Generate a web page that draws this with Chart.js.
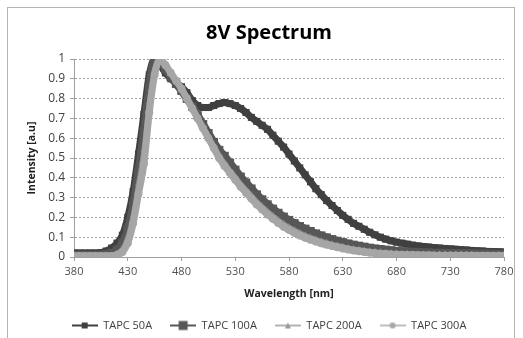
<!DOCTYPE html>
<html>
<head>
<meta charset="utf-8">
<script src="https://cdn.jsdelivr.net/npm/chart.js@4/dist/chart.umd.min.js"></script>
<style>
  body { margin: 0; background: #fff; }
  #wrap { position: relative; width: 523px; height: 338px; overflow: hidden; }
  #frame { position: absolute; left: 7px; top: 7px; width: 508px; height: 340px;
           border: 1px solid #b4b4b4; box-sizing: border-box; pointer-events: none; }
</style>
</head>
<body>
<div id="wrap">
  <canvas id="chart" width="523" height="338"></canvas>
  <div id="frame"></div>
</div>
<script>
// wavelength, nm
var wavelengths = [380,385,390,395,400,405,410,415,420,425,430,435,440,445,450,455,460,465,470,475,
  480,485,490,495,500,505,510,515,520,525,530,535,540,545,550,555,560,565,570,575,
  580,585,590,595,600,605,610,615,620,625,630,635,640,645,650,655,660,665,670,675,
  680,685,690,695,700,705,710,715,720,725,730,735,740,745,750,755,760,765,770,775,780];

var tapc50 = [0.02,0.02,0.02,0.02,0.02,0.022,0.03,0.045,0.07,0.11,0.2,0.33,0.52,0.72,0.92,1.0,0.97,0.93,0.9,0.88,
  0.86,0.83,0.79,0.765,0.755,0.755,0.765,0.775,0.78,0.775,0.765,0.75,0.73,0.705,0.685,0.665,0.645,0.615,0.585,0.555,
  0.52,0.485,0.45,0.415,0.38,0.345,0.315,0.285,0.26,0.235,0.21,0.19,0.17,0.155,0.14,0.125,0.112,0.1,0.09,0.082,
  0.075,0.07,0.065,0.06,0.056,0.053,0.05,0.047,0.045,0.043,0.041,0.039,0.037,0.035,0.033,0.031,0.03,0.028,0.027,0.026,0.025];

var tapc100 = [0.01,0.01,0.01,0.01,0.01,0.01,0.012,0.02,0.035,0.07,0.14,0.26,0.43,0.63,0.85,0.99,0.985,0.95,0.91,0.875,
  0.84,0.8,0.76,0.715,0.67,0.625,0.58,0.54,0.51,0.475,0.44,0.405,0.375,0.345,0.315,0.29,0.265,0.243,0.222,0.203,
  0.186,0.17,0.155,0.142,0.13,0.118,0.108,0.098,0.089,0.081,0.074,0.067,0.061,0.056,0.051,0.046,0.042,0.039,0.036,0.033,
  0.03,0.028,0.026,0.025,0.024,0.023,0.022,0.02,0.02,0.019,0.019,0.018,0.018,0.017,0.017,0.016,0.016,0.016,0.015,0.015,0.015];

var tapc200 = [0.006,0.006,0.006,0.006,0.006,0.006,0.006,0.006,0.018,0.04,0.1,0.21,0.37,0.54,0.78,0.95,0.995,0.965,0.925,0.885,
  0.845,0.8,0.753,0.705,0.657,0.608,0.56,0.514,0.475,0.437,0.405,0.37,0.34,0.31,0.28,0.255,0.23,0.208,0.187,0.168,
  0.151,0.136,0.122,0.11,0.099,0.089,0.08,0.072,0.065,0.058,0.052,0.046,0.041,0.037,0.033,0.029,0.026,0.024,0.022,0.02,
  0.018,0.017,0.016,0.014,0.014,0.013,0.013,0.012,0.012,0.012,0.011,0.011,0.011,0.01,0.01,0.01,0.01,0.009,0.009,0.009,0.009];

var tapc300 = [0.005,0.005,0.005,0.005,0.005,0.005,0.005,0.005,0.01,0.025,0.07,0.17,0.32,0.47,0.73,0.92,1.0,0.97,0.93,0.89,
  0.85,0.8,0.75,0.7,0.65,0.6,0.55,0.5,0.46,0.425,0.39,0.355,0.325,0.295,0.265,0.24,0.215,0.193,0.172,0.153,
  0.137,0.122,0.108,0.097,0.087,0.078,0.069,0.062,0.055,0.049,0.043,0.038,0.033,0.029,0.025,0.022,0.019,0.017,0.015,0.013,
  0.012,0.011,0.01,0.01,0.009,0.009,0.009,0.008,0.008,0.008,0.008,0.007,0.007,0.007,0.007,0.006,0.006,0.006,0.006,0.006,0.006];

var seriesNames = ["TAPC 50A", "TAPC 100A", "TAPC 200A", "TAPC 300A"];
var xTicks = [380, 430, 480, 530, 580, 630, 680, 730, 780];

function toPoints(vals) {
  return vals.map(function(v, i) { return { x: wavelengths[i], y: v }; });
}

// little line+marker picture for the legend
function legendIcon(color, lineW, marker, size) {
  var c = document.createElement("canvas");
  c.width = 26; c.height = 12;
  var g = c.getContext("2d");
  g.strokeStyle = color; g.fillStyle = color; g.lineWidth = lineW;
  g.beginPath(); g.moveTo(0, 6); g.lineTo(26, 6); g.stroke();
  if (marker === "rect") {
    g.fillRect(13 - size / 2, 6 - size / 2, size, size);
  } else if (marker === "triangle") {
    g.beginPath(); g.moveTo(13, 6 - size / 2); g.lineTo(13 + size / 2, 6 + size / 2); g.lineTo(13 - size / 2, 6 + size / 2); g.closePath(); g.fill();
  } else {
    g.beginPath(); g.arc(13, 6, size / 2, 0, Math.PI * 2); g.fill();
  }
  return c;
}

var icons = [
  legendIcon("#404040", 2, "rect", 6),
  legendIcon("#575757", 2, "rect", 9),
  legendIcon("#9a9a9a", 1.5, "triangle", 6),
  legendIcon("#a8a8a8", 1.5, "circle", 6)
];

var data = {
  datasets: [
    { label: seriesNames[0], data: toPoints(tapc50), borderColor: "#404040", backgroundColor: "#404040",
      borderWidth: 7, pointStyle: "rect", pointRadius: 5, pointBorderWidth: 0, order: 4 },
    { label: seriesNames[1], data: toPoints(tapc100), borderColor: "#575757", backgroundColor: "#575757",
      borderWidth: 8, pointStyle: "rect", pointRadius: 6, pointBorderWidth: 0, order: 3 },
    { label: seriesNames[2], data: toPoints(tapc200), borderColor: "#8c8c8c", backgroundColor: "#8c8c8c",
      borderWidth: 5, pointStyle: "triangle", pointRadius: 4, pointBorderWidth: 0, order: 2 },
    { label: seriesNames[3], data: toPoints(tapc300), borderColor: "#a6a6a6", backgroundColor: "#a6a6a6",
      borderWidth: 7, pointStyle: "circle", pointRadius: 4, pointBorderWidth: 0, order: 1 }
  ]
};

var config = {
  type: "line",
  data: data,
  options: {
    responsive: false,
    animation: false,
    devicePixelRatio: 1,
    layout: { padding: { left: 34, right: 19, top: 7, bottom: -3 } },
    elements: { line: { cubicInterpolationMode: "monotone", borderCapStyle: "round", borderJoinStyle: "round" } },
    plugins: {
      tooltip: { enabled: false },
      title: {
        display: true, text: "8V Spectrum", color: "#000",
        font: { family: "Open Sans", size: 20, weight: "bold" },
        padding: { top: 14, bottom: 14 }
      },
      legend: {
        position: "bottom",
        labels: {
          usePointStyle: true, pointStyleWidth: 26, padding: 18,
          color: "#404040", font: { family: "Open Sans", size: 11 },
          sort: function(a, b) { return a.datasetIndex - b.datasetIndex; },
          generateLabels: function(chart) {
            var items = Chart.defaults.plugins.legend.labels.generateLabels(chart);
            items.forEach(function(it) { it.pointStyle = icons[it.datasetIndex]; });
            return items;
          }
        }
      }
    },
    scales: {
      x: {
        type: "linear", min: 380, max: 780,
        afterBuildTicks: function(s) { s.ticks = xTicks.map(function(v) { return { value: v }; }); },
        afterFit: function(s) { s.height = 45; },
        ticks: { color: "#505050", padding: 4, maxRotation: 0, font: { family: "Open Sans", size: 11 } },
        grid: { drawOnChartArea: false, drawTicks: true, tickLength: 4, color: "#a0a0a0" },
        border: { color: "#a0a0a0" },
        title: { display: true, text: "Wavelength [nm]", color: "#202020",
                 font: { family: "Open Sans", size: 10.5, weight: "bold" }, padding: { top: 0, bottom: 2 } }
      },
      y: {
        min: 0, max: 1,
        afterFit: function(s) { s.width = 40; },
        ticks: { stepSize: 0.1, color: "#404040", padding: 5, font: { family: "Open Sans", size: 12 },
                 callback: function(v) { return String(Math.round(v * 10) / 10); } },
        grid: { color: "#a0a0a0", tickLength: 4, tickColor: "#a0a0a0" },
        border: { color: "#a0a0a0", dash: [2, 2] },
        title: { display: true, text: "Intensity [a.u]", color: "#202020",
                 font: { family: "Open Sans", size: 10.5, weight: "bold" }, padding: { top: -8, bottom: 0 } }
      }
    }
  }
};

var ctx = document.getElementById("chart").getContext("2d");
new Chart(ctx, config);
</script>
</body>
</html>
